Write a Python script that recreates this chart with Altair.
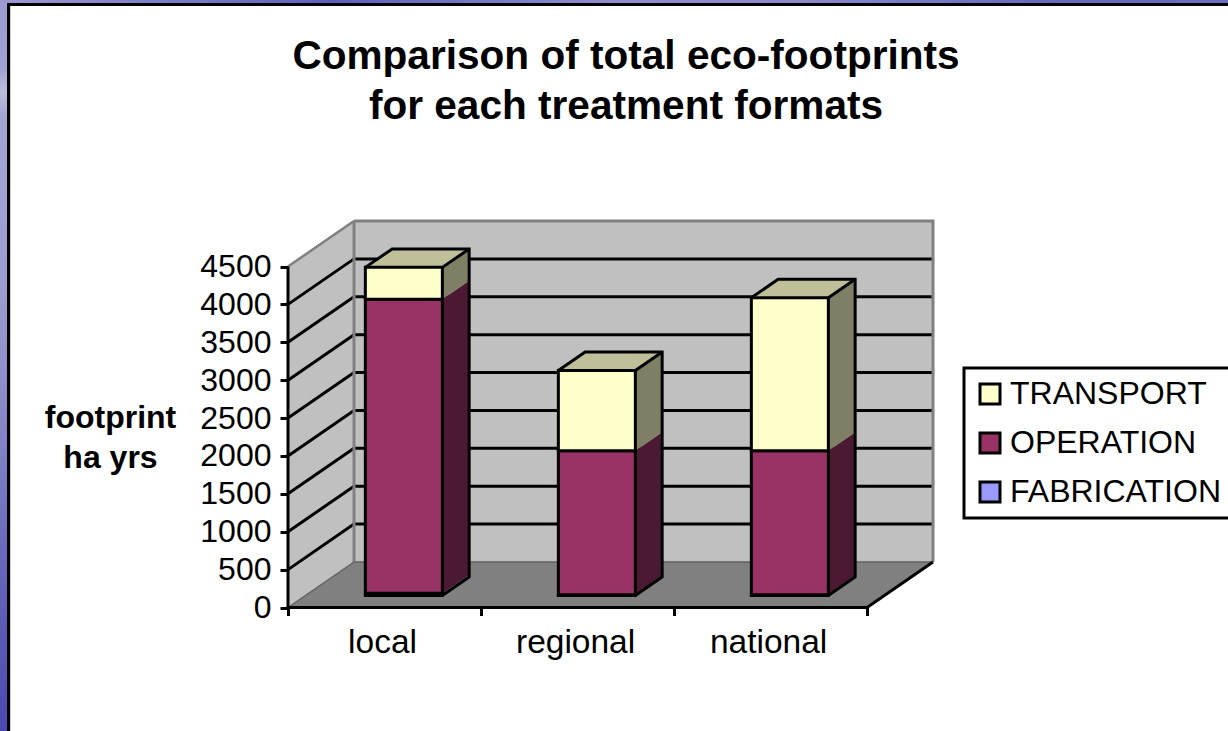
import altair as alt
import pandas as pd

# Figures behind the chart (footprint, ha yrs)
categories = ["local", "regional", "national"]
fabrication = [30, 10, 10]
operation = [3880, 1900, 1900]
transport = [420, 1060, 2020]
y_ticks = [0, 500, 1000, 1500, 2000, 2500, 3000, 3500, 4000, 4500]
grid_values = [500, 1000, 1500, 2000, 2500, 3000, 3500, 4000]
series = ["TRANSPORT", "OPERATION", "FABRICATION"]
series_colors = ["#FFFFCC", "#993366", "#9999FF"]
side_colors = {"TRANSPORT": "#7F7F66", "OPERATION": "#4C1933", "FABRICATION": "#4C4C7F"}
top_colors = {"TRANSPORT": "#BFBF99", "OPERATION": "#73264C", "FABRICATION": "#7373BF"}

# Oblique projection: going back one depth unit shifts by a category fraction and by value units
PX_PER_CAT = 193.0
PX_PER_VAL = 341.0 / 4500.0
DEPTH_X = 66.0 / PX_PER_CAT
DEPTH_Y = 45.5 / PX_PER_VAL
BAR_W = 77.0 / PX_PER_CAT
BAR_D0, BAR_D1 = 0.264, 0.67
BAR_OFFSET = 0.51
LINE = 3

x_scale = alt.Scale(domain=[-288 / PX_PER_CAT, 940 / PX_PER_CAT], range=[0, 1228], nice=False, zero=False)
y_scale = alt.Scale(domain=[-123.5 / PX_PER_VAL, 607.5 / PX_PER_VAL], range=[731, 0], nice=False, zero=False)

n = len(categories)

axis_x = alt.Axis(
    values=list(range(n + 1)),
    labels=False,
    domain=False,
    grid=False,
    title=None,
    tickColor="black",
    tickWidth=LINE,
    tickSize=8,
    offset=-123.5,
    orient="bottom",
)
axis_y = alt.Axis(
    values=y_ticks,
    format="d",
    domain=False,
    grid=False,
    title=["footprint", "ha yrs"],
    titleAngle=0,
    titleAlign="center",
    titleBaseline="middle",
    titleFont="Liberation Sans",
    titleFontWeight="bold",
    titleFontSize=32,
    titleLineHeight=40,
    titleColor="black",
    titleX=-178,
    titleY=417,
    tickColor="black",
    tickWidth=LINE,
    tickSize=8,
    labelFont="Liberation Sans",
    labelFontSize=32,
    labelColor="black",
    labelPadding=9,
    labelOverlap=False,
    offset=-288,
    orient="left",
)

X = lambda f="x": alt.X(f"{f}:Q", scale=x_scale, axis=axis_x)
Y = lambda f="y": alt.Y(f"{f}:Q", scale=y_scale, axis=axis_y)


def px(pos, depth):
    return pos + depth * DEPTH_X


def py(value, depth):
    return value + depth * DEPTH_Y


def vertical_face(x0, x1, y0a, y1a, y0b, y1b, fill):
    """Face with vertical ends, filled between two sloped edges."""
    df = pd.DataFrame({"x": [x0, x1], "y": [y0a, y0b], "y2": [y1a, y1b]})
    return alt.Chart(df).mark_area(color=fill, line=False).encode(X(), Y(), y2="y2:Q")


def horizontal_face(y0, y1, x0a, x1a, x0b, x1b, fill):
    """Face with horizontal ends, filled between two sloped edges."""
    df = pd.DataFrame({"y": [y0, y1], "x": [x0a, x0b], "x2": [x1a, x1b]})
    return alt.Chart(df).mark_area(color=fill, orient="horizontal").encode(Y(), X(), x2="x2:Q")


def polyline(points, color="black", width=LINE):
    df = pd.DataFrame({"x": [p[0] for p in points], "y": [p[1] for p in points], "i": range(len(points))})
    return alt.Chart(df).mark_line(color=color, strokeWidth=width, strokeJoin="miter").encode(X(), Y(), order="i:O")


def band(color, x0, x1, y0, y1):
    return alt.Chart(pd.DataFrame({"a": [0]})).mark_rect(color=color).encode(
        x=alt.value(x0), x2=alt.value(x1), y=alt.value(y0), y2=alt.value(y1)
    )


layers = []

# Page frame
side_stops = [
    alt.GradientStop(offset=0.0, color="#9C9CD2"),
    alt.GradientStop(offset=0.09, color="#A0A0D2"),
    alt.GradientStop(offset=0.125, color="#BCBCDC"),
    alt.GradientStop(offset=0.16, color="#A4A4D4"),
    alt.GradientStop(offset=0.4, color="#9C9CD0"),
    alt.GradientStop(offset=0.6, color="#8484C6"),
    alt.GradientStop(offset=0.75, color="#6A6ABC"),
    alt.GradientStop(offset=1.0, color="#4A4AB0"),
]
top_stops = [
    alt.GradientStop(offset=0.0, color="#9A9AD0"),
    alt.GradientStop(offset=0.27, color="#5F5FB8"),
    alt.GradientStop(offset=0.5, color="#8E8ECC"),
    alt.GradientStop(offset=0.65, color="#8A8ACA"),
    alt.GradientStop(offset=0.85, color="#6868BC"),
    alt.GradientStop(offset=1.0, color="#6C6CBE"),
]
layers.append(band(alt.Gradient(gradient="linear", stops=side_stops, x1=0, x2=0, y1=0, y2=1), 0, 7, 0, 731))
layers.append(band(alt.Gradient(gradient="linear", stops=top_stops, x1=0, x2=1, y1=0, y2=0), 0, 1228, 0, 3))
layers.append(band("#D0D0D0", 10, 11, 6, 731))
layers.append(band("black", 7, 10, 3, 731))
layers.append(band("black", 7, 1228, 3, 6))

# Walls and floor of the 3D box
top = y_ticks[-1]
layers.append(vertical_face(px(0, 0), px(0, 1), py(0, 0), py(top, 0), py(0, 1), py(top, 1), "#C0C0C0"))
layers.append(
    alt.Chart(pd.DataFrame({"x": [px(0, 1)], "x2": [px(n, 1)], "y": [py(0, 1)], "y2": [py(top, 1)]}))
    .mark_rect(color="#C0C0C0")
    .encode(X(), x2="x2:Q", y=Y(), y2="y2:Q")
)
layers.append(horizontal_face(py(0, 0), py(0, 1), px(0, 0), px(n, 0), px(0, 1), px(n, 1), "#808080"))

# Gridlines run across the side wall and then along the back wall
for v in grid_values:
    layers.append(polyline([(px(0, 0), py(v, 0)), (px(0, 1), py(v, 1)), (px(n, 1), py(v, 1))]))

# Wall edges
layers.append(polyline([(px(0, 0), py(top, 0)), (px(0, 1), py(top, 1))], "#808080", 2.5))
layers.append(polyline([(px(0, 1), py(top, 1)), (px(n, 1), py(top, 1)), (px(n, 1), py(0, 1))], "#808080", 3))
layers.append(polyline([(px(0, 1), py(top, 1)), (px(0, 1), py(0, 1))], "#808080", 3))
layers.append(polyline([(px(0, 1), py(0, 1)), (px(n, 1), py(0, 1))], "#606060", 1.5))
layers.append(polyline([(px(0, 0), py(0, 0)), (px(0, 1), py(0, 1))], "#606060", 1.5))

# Stacked prisms, bottom segment first
front_rows = []
outlines = []
for i, cat in enumerate(categories):
    base = i + BAR_OFFSET
    x0, x1 = base - BAR_W / 2, base + BAR_W / 2
    fx0, fx1 = px(x0, BAR_D0), px(x1, BAR_D0)
    bx1 = px(x1, BAR_D1)
    stack = 0
    for name, amount in [("FABRICATION", fabrication[i]), ("OPERATION", operation[i]), ("TRANSPORT", transport[i])]:
        low, high = stack, stack + amount
        front_rows.append(
            {"series": name, "x": fx0, "x2": fx1, "y": py(low, BAR_D0), "y2": py(high, BAR_D0)}
        )
        # Side of this segment
        layers.append(vertical_face(fx1, bx1, py(low, BAR_D0), py(high, BAR_D0), py(low, BAR_D1), py(high, BAR_D1), side_colors[name]))
        stack = high
    # Lid of the stack
    layers.append(
        horizontal_face(py(stack, BAR_D0), py(stack, BAR_D1), fx0, fx1, px(x0, BAR_D1), bx1, top_colors["TRANSPORT"])
    )
    outlines.append([(fx0, py(stack, BAR_D0)), (px(x0, BAR_D1), py(stack, BAR_D1)), (bx1, py(stack, BAR_D1)), (bx1, py(0, BAR_D1)), (fx1, py(0, BAR_D0))])
    outlines.append([(fx1, py(stack, BAR_D0)), (bx1, py(stack, BAR_D1))])

layers.append(
    alt.Chart(pd.DataFrame(front_rows))
    .mark_rect(stroke="black", strokeWidth=LINE)
    .encode(
        X(),
        x2="x2:Q",
        y=Y(),
        y2="y2:Q",
        color=alt.Color(
            "series:N",
            scale=alt.Scale(domain=series, range=series_colors),
            legend=alt.Legend(
                title=None,
                orient="none",
                legendX=964,
                legendY=368,
                fillColor="white",
                strokeColor="black",
                padding=10,
                symbolType="square",
                symbolSize=400,
                symbolStrokeColor="black",
                symbolStrokeWidth=LINE,
                symbolOpacity=1,
                labelFont="Liberation Sans",
                labelFontSize=32,
                labelColor="black",
                labelLimit=400,
                rowPadding=17,
                labelOffset=4,
            ),
        ),
    )
)
for seg in outlines:
    layers.append(polyline(seg))

# Axis lines drawn on top of the floor
layers.append(polyline([(px(0, 0), py(top, 0)), (px(0, 0), py(0, 0)), (px(n, 0), py(0, 0)), (px(n, 1), py(0, 1))]))

# Category labels under the floor
cat_df = pd.DataFrame({"label": categories, "x": [i + 0.49 for i in range(n)]})
layers.append(
    alt.Chart(cat_df)
    .mark_text(font="Liberation Sans", fontSize=33.5, color="black", baseline="middle")
    .encode(X(), y=alt.value(643), text="label:N")
)

chart = (
    alt.layer(*layers)
    .properties(
        width=1228,
        height=731,
        padding=0,
        autosize=alt.AutoSizeParams(type="none"),
        background="white",
        title=alt.TitleParams(
            text=["Comparison of total eco-footprints", "for each treatment formats"],
            font="Liberation Sans",
            fontSize=40.6,
            fontWeight="bold",
            color="black",
            lineHeight=50,
            anchor="middle",
            offset=-128,
            dx=12,
        ),
    )
    .configure_view(stroke=None)
    .configure_legend(strokeWidth=LINE)
)

chart.save("out.html", embed_options={"renderer": "svg", "actions": False})
